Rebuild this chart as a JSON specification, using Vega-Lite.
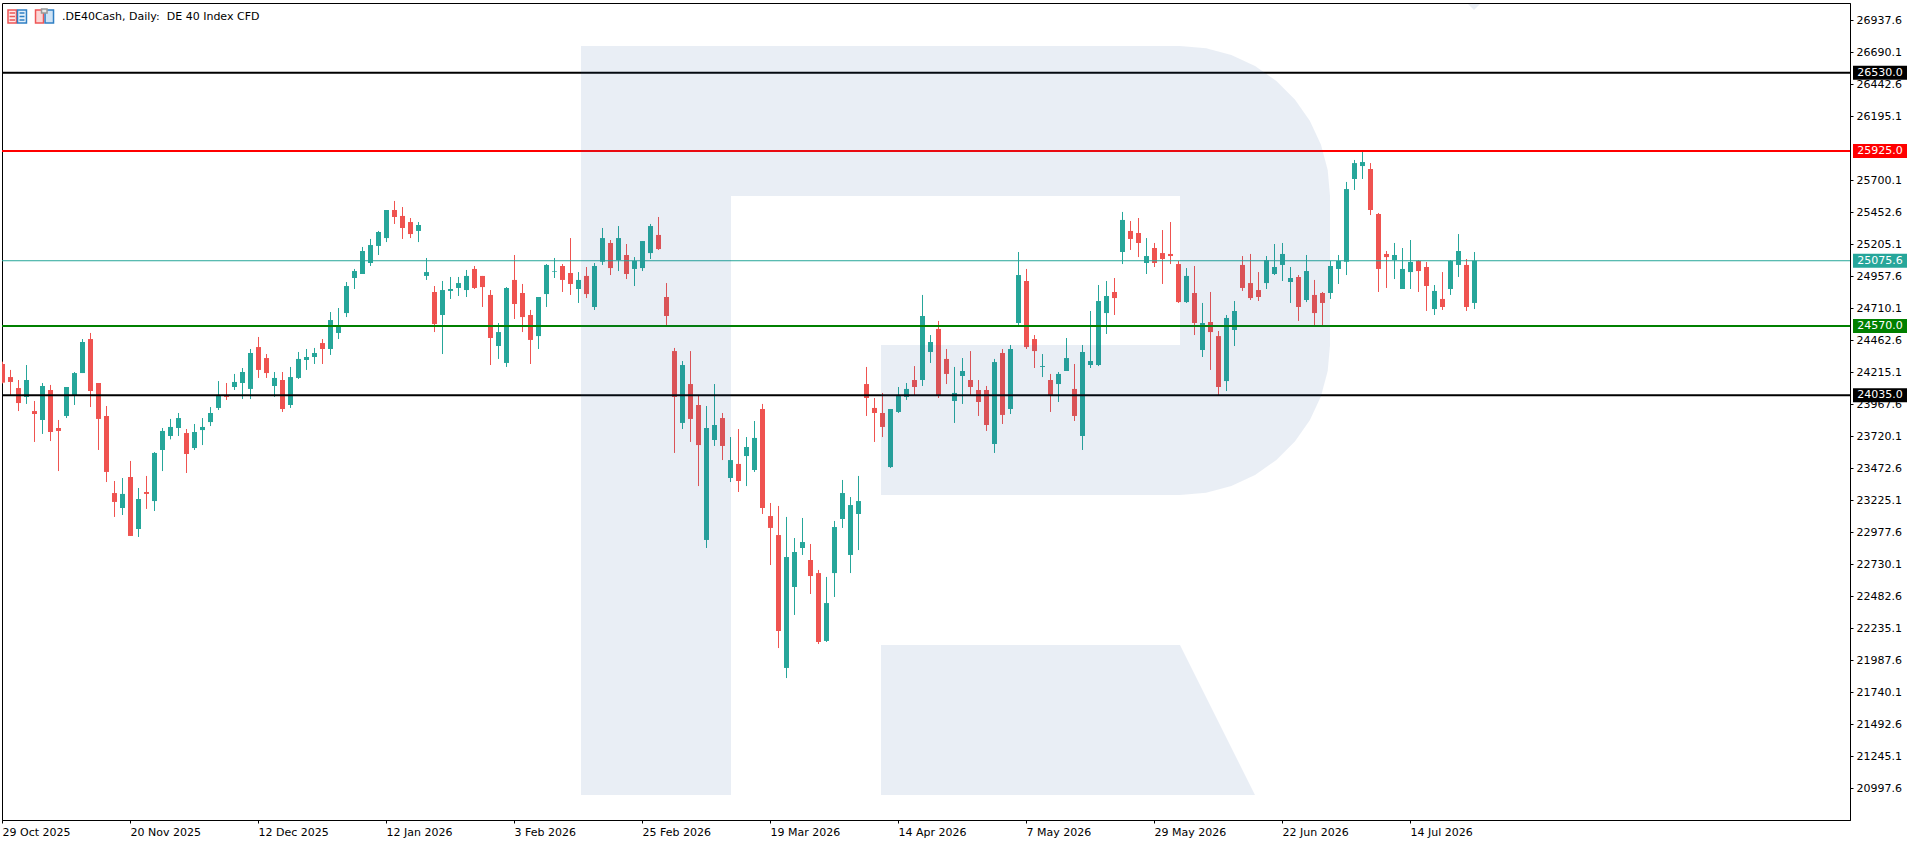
{
  "$schema": "https://vega.github.io/schema/vega-lite/v6.json",
  "description": ".DE40Cash daily candles with trade levels",
  "width": 1848,
  "height": 817,
  "autosize": {"type": "none"},
  "padding": {"left": 2, "top": 3, "right": 61, "bottom": 23},
  "background": "white",
  "view": {"stroke": "black", "strokeWidth": 1, "fill": "white"},
  "config": {"font": "DejaVu Sans"},
  "datasets": {
    "candles": [
      {"bar":0,"open":24277,"high":24295,"low":24127,"close":24133},
      {"bar":1,"open":24176,"high":24231,"low":24037,"close":24138},
      {"bar":2,"open":24091,"high":24153,"low":23913,"close":23975},
      {"bar":3,"open":24022,"high":24269,"low":23968,"close":24153},
      {"bar":4,"open":23913,"high":23991,"low":23674,"close":23890},
      {"bar":5,"open":23844,"high":24130,"low":23736,"close":24107},
      {"bar":6,"open":24076,"high":24115,"low":23681,"close":23751},
      {"bar":7,"open":23782,"high":23844,"low":23449,"close":23759},
      {"bar":8,"open":23875,"high":24099,"low":23859,"close":24099},
      {"bar":9,"open":24037,"high":24215,"low":23960,"close":24207},
      {"bar":10,"open":24207,"high":24470,"low":24207,"close":24447},
      {"bar":11,"open":24470,"high":24517,"low":23944,"close":24068},
      {"bar":12,"open":24130,"high":24130,"low":23612,"close":23852},
      {"bar":13,"open":23875,"high":23952,"low":23364,"close":23442},
      {"bar":14,"open":23279,"high":23372,"low":23094,"close":23210},
      {"bar":15,"open":23163,"high":23395,"low":23109,"close":23272},
      {"bar":16,"open":23403,"high":23527,"low":22947,"close":22947},
      {"bar":17,"open":23001,"high":23318,"low":22939,"close":23233},
      {"bar":18,"open":23287,"high":23411,"low":23156,"close":23272},
      {"bar":19,"open":23217,"high":23596,"low":23140,"close":23589},
      {"bar":20,"open":23612,"high":23782,"low":23449,"close":23759},
      {"bar":21,"open":23720,"high":23852,"low":23694,"close":23790},
      {"bar":22,"open":23782,"high":23898,"low":23720,"close":23859},
      {"bar":23,"open":23743,"high":23774,"low":23434,"close":23581},
      {"bar":24,"open":23627,"high":23813,"low":23612,"close":23751},
      {"bar":25,"open":23766,"high":23859,"low":23650,"close":23790},
      {"bar":26,"open":23828,"high":23944,"low":23797,"close":23898},
      {"bar":27,"open":23937,"high":24145,"low":23921,"close":24037},
      {"bar":28,"open":24029,"high":24130,"low":23999,"close":24022},
      {"bar":29,"open":24099,"high":24200,"low":24076,"close":24138},
      {"bar":30,"open":24130,"high":24246,"low":24006,"close":24215},
      {"bar":31,"open":24084,"high":24393,"low":24006,"close":24362},
      {"bar":32,"open":24408,"high":24486,"low":24169,"close":24231},
      {"bar":33,"open":24323,"high":24354,"low":24169,"close":24207},
      {"bar":34,"open":24107,"high":24215,"low":24022,"close":24169},
      {"bar":35,"open":24153,"high":24215,"low":23906,"close":23929},
      {"bar":36,"open":23960,"high":24254,"low":23937,"close":24176},
      {"bar":37,"open":24169,"high":24370,"low":24161,"close":24316},
      {"bar":38,"open":24308,"high":24393,"low":24231,"close":24331},
      {"bar":39,"open":24331,"high":24401,"low":24277,"close":24362},
      {"bar":40,"open":24439,"high":24470,"low":24277,"close":24393},
      {"bar":41,"open":24393,"high":24679,"low":24347,"close":24617},
      {"bar":42,"open":24517,"high":24710,"low":24470,"close":24563},
      {"bar":43,"open":24671,"high":24911,"low":24640,"close":24880},
      {"bar":44,"open":24942,"high":25012,"low":24857,"close":24996},
      {"bar":45,"open":24973,"high":25182,"low":24973,"close":25151},
      {"bar":46,"open":25058,"high":25244,"low":25035,"close":25197},
      {"bar":47,"open":25190,"high":25306,"low":25120,"close":25298},
      {"bar":48,"open":25251,"high":25468,"low":25220,"close":25468},
      {"bar":49,"open":25468,"high":25538,"low":25360,"close":25414},
      {"bar":50,"open":25422,"high":25491,"low":25244,"close":25329},
      {"bar":51,"open":25375,"high":25406,"low":25251,"close":25282},
      {"bar":52,"open":25306,"high":25375,"low":25220,"close":25352},
      {"bar":53,"open":24958,"high":25097,"low":24927,"close":24988},
      {"bar":54,"open":24834,"high":24880,"low":24524,"close":24586},
      {"bar":55,"open":24656,"high":24919,"low":24354,"close":24849},
      {"bar":56,"open":24842,"high":24950,"low":24780,"close":24857},
      {"bar":57,"open":24865,"high":24950,"low":24803,"close":24903},
      {"bar":58,"open":24849,"high":25004,"low":24795,"close":24958},
      {"bar":59,"open":25012,"high":25035,"low":24857,"close":24865},
      {"bar":60,"open":24958,"high":24958,"low":24718,"close":24872},
      {"bar":61,"open":24811,"high":24849,"low":24269,"close":24478},
      {"bar":62,"open":24416,"high":24594,"low":24316,"close":24524},
      {"bar":63,"open":24285,"high":24872,"low":24254,"close":24865},
      {"bar":64,"open":24927,"high":25120,"low":24625,"close":24741},
      {"bar":65,"open":24826,"high":24896,"low":24524,"close":24640},
      {"bar":66,"open":24656,"high":24695,"low":24277,"close":24463},
      {"bar":67,"open":24493,"high":24795,"low":24393,"close":24795},
      {"bar":68,"open":24818,"high":25050,"low":24718,"close":25043},
      {"bar":69,"open":24991,"high":25097,"low":24942,"close":24996},
      {"bar":70,"open":25035,"high":25050,"low":24834,"close":24927},
      {"bar":71,"open":24981,"high":25251,"low":24811,"close":24896},
      {"bar":72,"open":24857,"high":24988,"low":24749,"close":24927},
      {"bar":73,"open":24958,"high":25027,"low":24787,"close":24818},
      {"bar":74,"open":24718,"high":25058,"low":24695,"close":25035},
      {"bar":75,"open":25068,"high":25329,"low":25043,"close":25251},
      {"bar":76,"open":25213,"high":25236,"low":24965,"close":25019},
      {"bar":77,"open":25081,"high":25344,"low":24996,"close":25251},
      {"bar":78,"open":25120,"high":25205,"low":24934,"close":24973},
      {"bar":79,"open":25012,"high":25104,"low":24880,"close":25074},
      {"bar":80,"open":25019,"high":25228,"low":24996,"close":25228},
      {"bar":81,"open":25135,"high":25360,"low":25089,"close":25344},
      {"bar":82,"open":25275,"high":25414,"low":25159,"close":25166},
      {"bar":83,"open":24795,"high":24903,"low":24571,"close":24648},
      {"bar":84,"open":24377,"high":24401,"low":23589,"close":24022},
      {"bar":85,"open":23821,"high":24300,"low":23774,"close":24269},
      {"bar":86,"open":24122,"high":24377,"low":23674,"close":23852},
      {"bar":87,"open":23960,"high":24037,"low":23333,"close":23650},
      {"bar":88,"open":22916,"high":23952,"low":22854,"close":23782},
      {"bar":89,"open":23689,"high":24122,"low":23643,"close":23805},
      {"bar":90,"open":23859,"high":23898,"low":23534,"close":23643},
      {"bar":91,"open":23395,"high":23712,"low":23364,"close":23534},
      {"bar":92,"open":23504,"high":23774,"low":23287,"close":23372},
      {"bar":93,"open":23565,"high":23712,"low":23333,"close":23635},
      {"bar":94,"open":23457,"high":23836,"low":23442,"close":23705},
      {"bar":95,"open":23929,"high":23968,"low":23117,"close":23163},
      {"bar":96,"open":23101,"high":23202,"low":22722,"close":23009},
      {"bar":97,"open":22954,"high":23179,"low":22080,"close":22212},
      {"bar":98,"open":21926,"high":23094,"low":21848,"close":22784},
      {"bar":99,"open":22552,"high":22931,"low":22336,"close":22823},
      {"bar":100,"open":22854,"high":23086,"low":22800,"close":22900},
      {"bar":101,"open":22761,"high":22885,"low":22498,"close":22637},
      {"bar":102,"open":22660,"high":22684,"low":22111,"close":22127},
      {"bar":103,"open":22135,"high":22630,"low":22127,"close":22428},
      {"bar":104,"open":22660,"high":23063,"low":22475,"close":23016},
      {"bar":105,"open":23078,"high":23380,"low":23009,"close":23279},
      {"bar":106,"open":22800,"high":23248,"low":22660,"close":23186},
      {"bar":107,"open":23117,"high":23411,"low":22838,"close":23217},
      {"bar":108,"open":24122,"high":24254,"low":23875,"close":24014},
      {"bar":109,"open":23937,"high":24014,"low":23674,"close":23898},
      {"bar":110,"open":23898,"high":24053,"low":23712,"close":23790},
      {"bar":111,"open":23480,"high":23929,"low":23473,"close":23929},
      {"bar":112,"open":23906,"high":24099,"low":23898,"close":24037},
      {"bar":113,"open":24022,"high":24130,"low":23999,"close":24084},
      {"bar":114,"open":24153,"high":24261,"low":24037,"close":24099},
      {"bar":115,"open":24153,"high":24811,"low":24107,"close":24648},
      {"bar":116,"open":24370,"high":24501,"low":24285,"close":24447},
      {"bar":117,"open":24548,"high":24610,"low":24014,"close":24037},
      {"bar":118,"open":24316,"high":24393,"low":24122,"close":24200},
      {"bar":119,"open":23991,"high":24254,"low":23821,"close":24053},
      {"bar":120,"open":24184,"high":24323,"low":23968,"close":24223},
      {"bar":121,"open":24153,"high":24377,"low":24037,"close":24099},
      {"bar":122,"open":24076,"high":24153,"low":23875,"close":23983},
      {"bar":123,"open":24076,"high":24107,"low":23759,"close":23805},
      {"bar":124,"open":23658,"high":24316,"low":23589,"close":24292},
      {"bar":125,"open":24362,"high":24393,"low":23813,"close":23883},
      {"bar":126,"open":23929,"high":24424,"low":23890,"close":24393},
      {"bar":127,"open":24594,"high":25143,"low":24579,"close":24965},
      {"bar":128,"open":24919,"high":25012,"low":24393,"close":24408},
      {"bar":129,"open":24470,"high":24501,"low":24246,"close":24377},
      {"bar":130,"open":24254,"high":24354,"low":24176,"close":24261},
      {"bar":131,"open":24153,"high":24200,"low":23906,"close":24037},
      {"bar":132,"open":24122,"high":24215,"low":23983,"close":24200},
      {"bar":133,"open":24223,"high":24478,"low":24223,"close":24323},
      {"bar":134,"open":24084,"high":24277,"low":23836,"close":23875},
      {"bar":135,"open":23720,"high":24424,"low":23612,"close":24370},
      {"bar":136,"open":24269,"high":24687,"low":24246,"close":24300},
      {"bar":137,"open":24269,"high":24888,"low":24261,"close":24764},
      {"bar":138,"open":24671,"high":24919,"low":24509,"close":24803},
      {"bar":139,"open":24834,"high":24942,"low":24656,"close":24787},
      {"bar":140,"open":25143,"high":25453,"low":25050,"close":25391},
      {"bar":141,"open":25306,"high":25383,"low":25159,"close":25244},
      {"bar":142,"open":25290,"high":25406,"low":25104,"close":25213},
      {"bar":143,"open":25058,"high":25251,"low":24973,"close":25112},
      {"bar":144,"open":25174,"high":25213,"low":25027,"close":25058},
      {"bar":145,"open":25135,"high":25313,"low":24896,"close":25089},
      {"bar":146,"open":25128,"high":25375,"low":25050,"close":25112},
      {"bar":147,"open":25050,"high":25074,"low":24749,"close":24756},
      {"bar":148,"open":24756,"high":25019,"low":24749,"close":24958},
      {"bar":149,"open":24826,"high":25035,"low":24501,"close":24594},
      {"bar":150,"open":24385,"high":24749,"low":24331,"close":24594},
      {"bar":151,"open":24602,"high":24834,"low":24231,"close":24524},
      {"bar":152,"open":24493,"high":24532,"low":24037,"close":24099},
      {"bar":153,"open":24145,"high":24656,"low":24068,"close":24633},
      {"bar":154,"open":24540,"high":24764,"low":24416,"close":24687},
      {"bar":155,"open":25043,"high":25112,"low":24842,"close":24865},
      {"bar":156,"open":24903,"high":25128,"low":24772,"close":24787},
      {"bar":157,"open":24849,"high":24988,"low":24764,"close":24795},
      {"bar":158,"open":24903,"high":25112,"low":24857,"close":25081},
      {"bar":159,"open":24973,"high":25205,"low":24965,"close":25027},
      {"bar":160,"open":25043,"high":25213,"low":24919,"close":25128},
      {"bar":161,"open":24911,"high":25027,"low":24749,"close":24942},
      {"bar":162,"open":24950,"high":24965,"low":24610,"close":24718},
      {"bar":163,"open":24772,"high":25120,"low":24756,"close":24996},
      {"bar":164,"open":24811,"high":24927,"low":24573,"close":24671},
      {"bar":165,"open":24826,"high":24834,"low":24573,"close":24749},
      {"bar":166,"open":24826,"high":25074,"low":24780,"close":25035},
      {"bar":167,"open":25012,"high":25120,"low":24896,"close":25074},
      {"bar":168,"open":25068,"high":25685,"low":24965,"close":25630},
      {"bar":169,"open":25708,"high":25855,"low":25623,"close":25831},
      {"bar":170,"open":25808,"high":25917,"low":25708,"close":25839},
      {"bar":171,"open":25785,"high":25831,"low":25429,"close":25468},
      {"bar":172,"open":25437,"high":25445,"low":24834,"close":25012},
      {"bar":173,"open":25128,"high":25151,"low":24865,"close":25104},
      {"bar":174,"open":25081,"high":25213,"low":24934,"close":25120},
      {"bar":175,"open":24857,"high":25174,"low":24857,"close":25012},
      {"bar":176,"open":24988,"high":25236,"low":24857,"close":25066},
      {"bar":177,"open":25074,"high":25081,"low":24834,"close":24996},
      {"bar":178,"open":25027,"high":25066,"low":24687,"close":24880},
      {"bar":179,"open":24702,"high":24888,"low":24656,"close":24842},
      {"bar":180,"open":24780,"high":24988,"low":24695,"close":24718},
      {"bar":181,"open":24857,"high":25081,"low":24811,"close":25074},
      {"bar":182,"open":25043,"high":25282,"low":24950,"close":25151},
      {"bar":183,"open":25043,"high":25089,"low":24687,"close":24718},
      {"bar":184,"open":24749,"high":25143,"low":24702,"close":25075.6}
    ],
    "levels": [
      {"price":26530.0,"level":"target"},
      {"price":25925.0,"level":"resistance"},
      {"price":25075.6,"level":"last"},
      {"price":24570.0,"level":"support"},
      {"price":24035.0,"level":"stop"}
    ],
    "logo": [
      {"part":"bowl","i":0,"bar":72.31,"price":26736.5},
      {"part":"bowl","i":1,"bar":147.19,"price":26736.5},
      {"part":"bowl","i":2,"bar":150.45,"price":26718.6},
      {"part":"bowl","i":3,"bar":153.6,"price":26666.8},
      {"part":"bowl","i":4,"bar":156.57,"price":26581.0},
      {"part":"bowl","i":5,"bar":159.24,"price":26465.0},
      {"part":"bowl","i":6,"bar":161.55,"price":26321.9},
      {"part":"bowl","i":7,"bar":163.43,"price":26156.4},
      {"part":"bowl","i":8,"bar":164.81,"price":25973.1},
      {"part":"bowl","i":9,"bar":165.65,"price":25777.8},
      {"part":"bowl","i":10,"bar":165.94,"price":25576.3},
      {"part":"bowl","i":11,"bar":165.94,"price":24423.9},
      {"part":"bowl","i":12,"bar":165.65,"price":24222.4},
      {"part":"bowl","i":13,"bar":164.81,"price":24027.1},
      {"part":"bowl","i":14,"bar":163.43,"price":23843.8},
      {"part":"bowl","i":15,"bar":161.55,"price":23678.3},
      {"part":"bowl","i":16,"bar":159.24,"price":23535.2},
      {"part":"bowl","i":17,"bar":156.57,"price":23419.2},
      {"part":"bowl","i":18,"bar":153.6,"price":23333.4},
      {"part":"bowl","i":19,"bar":150.45,"price":23281.6},
      {"part":"bowl","i":20,"bar":147.19,"price":23263.8},
      {"part":"bowl","i":21,"bar":109.81,"price":23263.8},
      {"part":"bowl","i":22,"bar":109.81,"price":24423.9},
      {"part":"bowl","i":23,"bar":147.19,"price":24423.9},
      {"part":"bowl","i":24,"bar":147.19,"price":25576.3},
      {"part":"bowl","i":25,"bar":91.06,"price":25576.3},
      {"part":"bowl","i":26,"bar":91.06,"price":20943.5},
      {"part":"bowl","i":27,"bar":72.31,"price":20943.5},
      {"part":"bowl","i":28,"bar":72.31,"price":26736.5},
      {"part":"leg","i":0,"bar":109.81,"price":22103.6},
      {"part":"leg","i":1,"bar":147.19,"price":22103.6},
      {"part":"leg","i":2,"bar":156.56,"price":20943.5},
      {"part":"leg","i":3,"bar":109.81,"price":20943.5},
      {"part":"leg","i":4,"bar":109.81,"price":22103.6},
      {"part":"shift","i":0,"bar":183.19,"price":27061.4},
      {"part":"shift","i":1,"bar":184.69,"price":27061.4},
      {"part":"shift","i":2,"bar":183.94,"price":27014.9},
      {"part":"shift","i":3,"bar":183.19,"price":27061.4}
    ],
    "icons": [
      {"tone":"redLine","bar":0.75,"bar2":1.81,"price":27014.9,"price2":26914.4},
      {"tone":"blueLine","bar":1.94,"bar2":3.06,"price":27014.9,"price2":26914.4},
      {"tone":"redLine","bar":0.94,"bar2":1.63,"price":26991.7,"price2":26991.7},
      {"tone":"redLine","bar":0.94,"bar2":1.63,"price":26964.7,"price2":26964.7},
      {"tone":"redLine","bar":0.94,"bar2":1.63,"price":26937.6,"price2":26937.6},
      {"tone":"blueLine","bar":2.19,"bar2":2.81,"price":26991.7,"price2":26991.7},
      {"tone":"blueLine","bar":2.19,"bar2":2.81,"price":26964.7,"price2":26964.7},
      {"tone":"blueLine","bar":2.19,"bar2":2.81,"price":26937.6,"price2":26937.6},
      {"tone":"redFill","bar":4.19,"bar2":5.19,"price":27014.9,"price2":26914.4},
      {"tone":"blueFill","bar":5.38,"bar2":6.44,"price":27014.9,"price2":26914.4},
      {"tone":"grey","bar":4.94,"bar2":5.63,"price":27022.6,"price2":26991.7}
    ],
    "caption": [{"text":".DE40Cash, Daily:\u00a0 DE 40 Index CFD"}]
  },
  "layer": [
    {
      "data": {"name": "candles"},
      "mark": {"type": "rule", "strokeWidth": 1, "clip": true, "xOffset": 0.5},
      "encoding": {
        "x": {
          "field": "bar",
          "type": "quantitative",
          "scale": {"domain": [0, 231], "nice": false, "zero": false, "padding": 0},
          "axis": {
            "title": null,
            "grid": false,
            "orient": "bottom",
            "values": [0,16,32,48,64,80,96,112,128,144,160,176],
            "tickCount": 12,
            "labelExpr": "{'0':'29 Oct 2025','16':'20 Nov 2025','32':'12 Dec 2025','48':'12 Jan 2026','64':'3 Feb 2026','80':'25 Feb 2026','96':'19 Mar 2026','112':'14 Apr 2026','128':'7 May 2026','144':'29 May 2026','160':'22 Jun 2026','176':'14 Jul 2026'}[datum.value]",
            "labelAlign": "left",
            "labelBaseline": "middle",
            "labelPadding": 9,
            "labelFontSize": 11,
            "labelColor": "black",
            "labelFont": "DejaVu Sans",
            "labelOverlap": false,
            "labelFlush": false,
            "labelBound": false,
            "tickSize": 3,
            "tickColor": "black",
            "domainColor": "black"
          }
        },
        "y": {
          "field": "low",
          "type": "quantitative",
          "scale": {"domain": [20750.1, 27069.05], "nice": false, "zero": false},
          "axis": {
            "title": null,
            "grid": false,
            "orient": "right",
            "values": [26937.6,26690.1,26442.6,26195.1,25700.1,25452.6,25205.1,24957.6,24710.1,24462.6,24215.1,23967.6,23720.1,23472.6,23225.1,22977.6,22730.1,22482.6,22235.1,21987.6,21740.1,21492.6,21245.1,20997.6],
            "tickCount": 24,
            "format": ".1f",
            "labelFontSize": 11,
            "labelColor": "black",
            "labelFont": "DejaVu Sans",
            "labelPadding": 3,
            "labelOffset": 1,
            "labelOverlap": false,
            "labelBound": false,
            "labelFlush": false,
            "tickSize": 3,
            "tickColor": "black",
            "domainColor": "black"
          }
        },
        "y2": {"field": "high"},
        "color": {"condition": {"test": "datum.close >= datum.open", "value": "#26a69a"}, "value": "#ef5350"}
      }
    },
    {
      "data": {"name": "candles"},
      "mark": {"type": "bar", "size": 5, "clip": true, "xOffset": 0.5},
      "encoding": {
        "x": {"field": "bar", "type": "quantitative"},
        "y": {"field": "open", "type": "quantitative"},
        "y2": {"field": "close"},
        "color": {"condition": {"test": "datum.close >= datum.open", "value": "#26a69a"}, "value": "#ef5350"}
      }
    },
    {
      "data": {"name": "levels"},
      "transform": [{"filter": "datum.level != 'last'"}],
      "mark": {"type": "rule", "strokeWidth": 2},
      "encoding": {
        "y": {"field": "price", "type": "quantitative"},
        "color": {
          "field": "level",
          "type": "nominal",
          "legend": null,
          "scale": {
            "domain": ["target", "resistance", "last", "support", "stop"],
            "range": ["#000000", "#ff0000", "#26a69a", "#008000", "#000000"]
          }
        }
      }
    },
    {
      "data": {"name": "levels"},
      "transform": [{"filter": "datum.level == 'last'"}],
      "mark": {"type": "rule", "strokeWidth": 1},
      "encoding": {
        "y": {"field": "price", "type": "quantitative"},
        "color": {"field": "level", "type": "nominal", "legend": null}
      }
    },
    {
      "data": {"name": "logo"},
      "mark": {"type": "line", "fill": "#23559b", "fillOpacity": 0.1, "stroke": "transparent", "strokeWidth": 0, "xOffset": 0.5},
      "encoding": {
        "x": {"field": "bar", "type": "quantitative"},
        "y": {"field": "price", "type": "quantitative"},
        "detail": {"field": "part"},
        "order": {"field": "i"}
      }
    },
    {
      "data": {"name": "levels"},
      "mark": {"type": "rect", "width": 54, "height": 14},
      "encoding": {
        "x": {"datum": 234.75, "type": "quantitative"},
        "y": {"field": "price", "type": "quantitative"},
        "color": {"field": "level", "type": "nominal", "legend": null}
      }
    },
    {
      "data": {"name": "levels"},
      "mark": {"type": "text", "color": "white", "fontSize": 11, "font": "DejaVu Sans", "align": "center", "baseline": "middle"},
      "encoding": {
        "x": {"datum": 234.75, "type": "quantitative"},
        "y": {"field": "price", "type": "quantitative"},
        "text": {"field": "price", "type": "quantitative", "format": ".1f"}
      }
    },
    {
      "data": {"name": "icons"},
      "mark": {"type": "rect", "strokeWidth": 1.5},
      "encoding": {
        "x": {"field": "bar", "type": "quantitative"},
        "x2": {"field": "bar2"},
        "y": {"field": "price", "type": "quantitative"},
        "y2": {"field": "price2"},
        "fill": {
          "field": "tone",
          "type": "nominal",
          "legend": null,
          "scale": {
            "domain": ["redLine", "blueLine", "redFill", "blueFill", "grey"],
            "range": ["#fdeaea", "#e4f0fa", "#fbd5d5", "#cfe3f5", "#e8e8e8"]
          }
        },
        "stroke": {
          "field": "tone",
          "type": "nominal",
          "legend": null,
          "scale": {
            "domain": ["redLine", "blueLine", "redFill", "blueFill", "grey"],
            "range": ["#ee5555", "#2f7fc4", "#ee5555", "#2f7fc4", "#999999"]
          }
        }
      }
    },
    {
      "data": {"name": "caption"},
      "mark": {"type": "text", "color": "black", "fontSize": 11, "font": "DejaVu Sans", "align": "left", "baseline": "middle"},
      "encoding": {
        "x": {"datum": 7.5, "type": "quantitative"},
        "y": {"datum": 26960.8, "type": "quantitative"},
        "text": {"field": "text", "type": "nominal"}
      }
    }
  ]
}
